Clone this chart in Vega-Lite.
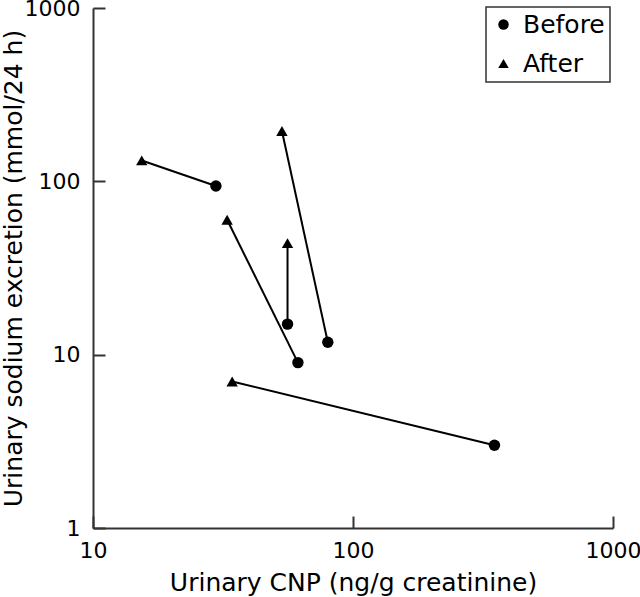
{
  "$schema": "https://vega.github.io/schema/vega-lite/v6.json",
  "width": 520,
  "height": 520,
  "autosize": {"type": "none"},
  "padding": {"left": 93, "top": 8, "right": 27, "bottom": 69},
  "background": "white",
  "config": {
    "view": {"stroke": null},
    "font": "DejaVu Sans",
    "axis": {
      "grid": false,
      "domainColor": "#333333",
      "domainWidth": 2,
      "labelFont": "DejaVu Sans",
      "labelFontSize": 22,
      "labelColor": "black",
      "labelFlush": false,
      "labelOverlap": false,
      "titleFont": "DejaVu Sans",
      "titleFontSize": 25,
      "titleFontWeight": "normal",
      "titleColor": "black"
    },
    "legend": {"strokeWidth": 1.5}
  },
  "data": {
    "values": [
      {"id": 1, "phase": "Before", "cnp": 29.7, "sodium": 94},
      {"id": 1, "phase": "After", "cnp": 15.4, "sodium": 132},
      {"id": 2, "phase": "Before", "cnp": 61.4, "sodium": 9.0},
      {"id": 2, "phase": "After", "cnp": 32.8, "sodium": 60},
      {"id": 3, "phase": "Before", "cnp": 56, "sodium": 15},
      {"id": 3, "phase": "After", "cnp": 56, "sodium": 44},
      {"id": 4, "phase": "Before", "cnp": 80, "sodium": 11.8},
      {"id": 4, "phase": "After", "cnp": 53.3, "sodium": 195},
      {"id": 5, "phase": "Before", "cnp": 350, "sodium": 3.0},
      {"id": 5, "phase": "After", "cnp": 34.3, "sodium": 7.0}
    ]
  },
  "encoding": {
    "x": {
      "field": "cnp", "type": "quantitative",
      "scale": {"type": "log", "domain": [10, 1000], "nice": false},
      "axis": {"values": [10, 100, 1000], "format": ".0f", "ticks": true, "tickColor": "#333333", "tickWidth": 2, "tickSize": -12, "labelPadding": 24, "title": "Urinary CNP (ng/g creatinine)", "titlePadding": 9}
    },
    "y": {
      "field": "sodium", "type": "quantitative",
      "scale": {"type": "log", "domain": [1, 1000], "nice": false},
      "axis": {"values": [1, 10, 100, 1000], "format": ".0f", "ticks": true, "tickColor": "#333333", "tickWidth": 2, "tickSize": -12, "labelPadding": 25, "title": "Urinary sodium excretion (mmol/24 h)", "titleX": -67, "titleBaseline": "bottom"}
    }
  },
  "layer": [
    {
      "mark": {"type": "line", "color": "black", "strokeWidth": 2},
      "encoding": {
        "detail": {"field": "id"},
        "order": {"field": "phase"}
      }
    },
    {
      "mark": {"type": "point", "filled": true, "color": "black", "opacity": 1, "size": 130},
      "encoding": {
        "shape": {
          "field": "phase", "type": "nominal",
          "scale": {"domain": ["Before", "After"], "range": ["circle", "triangle-up"]},
          "legend": {
            "title": null,
            "orient": "none",
            "legendX": 393,
            "legendY": -1,
            "strokeColor": "#333333",
            "padding": 5,
            "symbolSize": 110,
            "symbolFillColor": "black",
            "symbolStrokeColor": "black",
            "labelFont": "DejaVu Sans",
            "labelFontSize": 25,
            "labelColor": "black",
            "labelOffset": 7,
            "rowPadding": 13,
            "fillColor": "white"
          }
        }
      }
    }
  ]
}
